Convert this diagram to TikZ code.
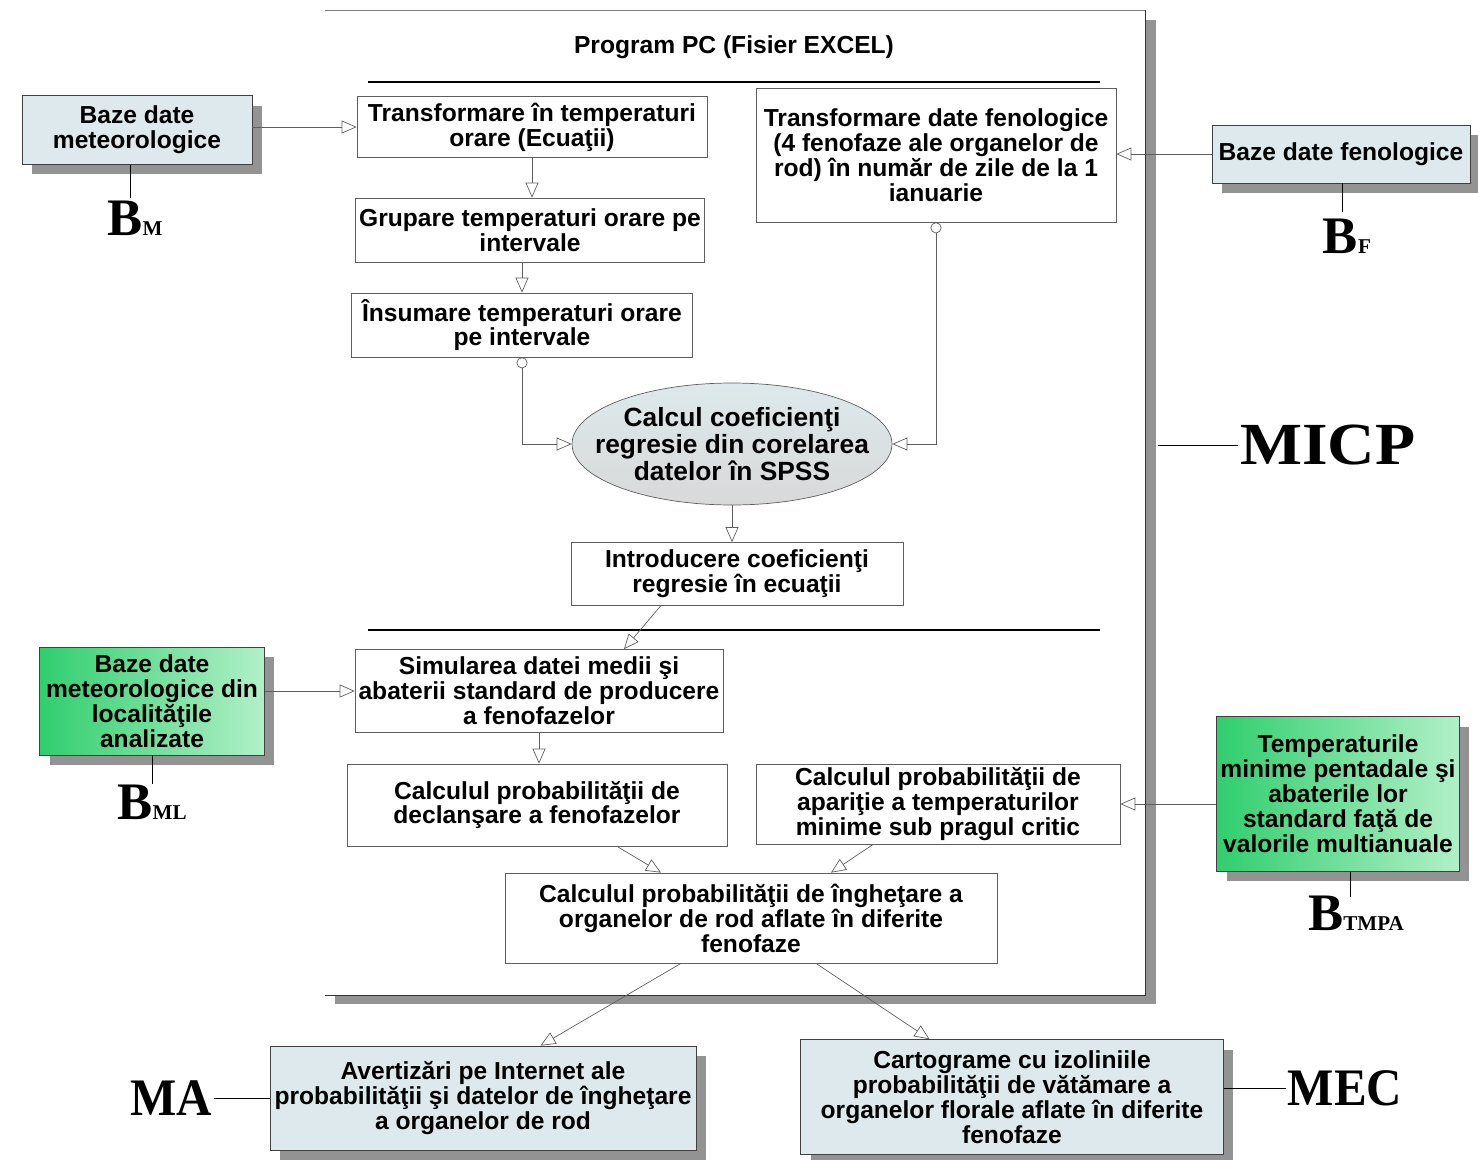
\documentclass[tikz,border=0pt]{standalone}
\usepackage{fontspec}
\setmainfont{Liberation Serif}
\setsansfont{Liberation Sans}
\usepackage{tikz}
\usetikzlibrary{arrows.meta,shapes.geometric,shapes.misc,shadows}

\definecolor{boxblue}{RGB}{221,233,236}
\definecolor{greenA}{RGB}{48,206,110}
\definecolor{greenB}{RGB}{178,240,200}
\definecolor{linegray}{RGB}{95,95,95}

\newcommand{\blab}[1]{{\fontsize{30}{30}\selectfont\bfseries B}{\fontsize{12}{12}\selectfont\bfseries #1}}

\tikzset{
  pas/.style={draw=linegray, fill=white, align=center, inner sep=2pt,
    font=\sffamily\bfseries\fontsize{14}{14.2}\selectfont},
  baza/.style={pas, fill=boxblue, draw=black!75,
    drop shadow={shadow xshift=0.2cm, shadow yshift=-0.2cm, fill=gray!85, opacity=1}},
  bazav/.style={baza, left color=greenA, right color=greenB},
  conn/.style={draw=linegray, -{Triangle[open, length=0.3cm, width=0.26cm]}},
  connc/.style={draw=linegray, {Circle[open, length=0.22cm]}-{Triangle[open, length=0.3cm, width=0.26cm]}},
  eticheta/.style={font=\fontsize{34}{34}\selectfont\bfseries, inner sep=1pt}
}

\begin{document}
\begin{tikzpicture}[x=0.02cm, y=-0.02cm]
    \useasboundingbox (0,0) rectangle (1478,1160);
    % chenarul programului
    \fill[gray!85] (1145,20) rectangle (1156,1004);
    \fill[gray!85] (335,995) rectangle (1156,1004);
    \draw[gray] (325,10) -- (1145,10);
    \draw[black!80] (1145,10) -- (1145,995) -- (325,995);
    \node[font=\sffamily\bfseries\fontsize{14}{14}\selectfont] (titlu) at (734,47) {Program PC (Fisier EXCEL)};
    \draw[thick] (368,82) -- (1100,82);
    \draw[thick] (368,630) -- (1100,630);

    % baze de date
    \node[baza, minimum width=4.6cm, minimum height=1.38cm] (bmeteo) at (137,130) {Baze date\\meteorologice};
    \node[baza, minimum width=5.16cm, minimum height=1.16cm] (bfeno) at (1341,154) {Baze date fenologice};
    \node[bazav, minimum width=4.5cm, minimum height=2.16cm] (bloc) at (152,701) {Baze date\\meteorologice din\\localităţile\\analizate};
    \node[bazav, minimum width=4.86cm, minimum height=3.1cm] (btmpa) at (1338,794) {Temperaturile\\minime pentadale şi\\abaterile lor\\standard faţă de\\valorile multianuale};

    % pasii de calcul
    \node[pas, minimum width=7cm, minimum height=1.22cm] (tmeteo) at (532,127) {Transformare în temperaturi\\orare (Ecuaţii)};
    \node[pas, minimum width=6.9cm, minimum height=1.28cm] (tgrup) at (530,230) {Grupare temperaturi orare pe\\intervale};
    \node[pas, minimum width=6.82cm, minimum height=1.28cm] (tinsum) at (522,325) {Însumare temperaturi orare\\pe intervale};
    \node[pas, minimum width=7.2cm, minimum height=2.68cm] (tfeno) at (936,155) {Transformare date fenologice\\(4 fenofaze ale organelor de\\rod) în număr de zile de la 1\\ianuarie};
    \node[pas, ellipse, inner xsep=-15pt, inner ysep=0pt, top color=boxblue, bottom color=gray!30, minimum width=6.4cm, minimum height=2.44cm, font=\sffamily\bfseries\fontsize{15}{15.2}\selectfont] (ecoef) at (732,444) {Calcul coeficienţi\\regresie din corelarea\\datelor în SPSS};
    \node[pas, minimum width=6.64cm, minimum height=1.26cm] (tintro) at (737,574) {Introducere coeficienţi\\regresie în ecuaţii};
    \node[pas, minimum width=7.36cm, minimum height=1.66cm] (tsimul) at (539,691) {Simularea datei medii şi\\abaterii standard de producere\\a fenofazelor};
    \node[pas, minimum width=7.6cm, minimum height=1.64cm] (tdecl) at (537,805) {Calculul probabilităţii de\\declanşare a fenofazelor};
    \node[pas, minimum width=7.28cm, minimum height=1.52cm] (tapar) at (938,804) {Calculul probabilităţii de\\apariţie a temperaturilor\\minime sub pragul critic};
    \node[pas, minimum width=9.84cm, minimum height=1.8cm] (tinghet) at (751,918) {Calculul probabilităţii de îngheţare a\\organelor de rod aflate în diferite\\fenofaze};

    % rezultate
    \node[baza, minimum width=8.52cm, minimum height=2.08cm] (ma) at (483,1098) {Avertizări pe Internet ale\\probabilităţii şi datelor de îngheţare\\a organelor de rod};
    \node[baza, minimum width=8.46cm, minimum height=2.3cm] (mec) at (1012,1097) {Cartograme cu izoliniile\\probabilităţii de vătămare a\\organelor florale aflate în diferite\\fenofaze};

    % etichete
    \node[inner sep=0pt] (lbm) at (135,218) {\blab{M}};
    \node[inner sep=0pt] (lbf) at (1347,236) {\blab{F}};
    \node[inner sep=0pt] (lbml) at (152,802) {\blab{ML}};
    \node[inner sep=0pt] (lbtmpa) at (1356,913) {\blab{TMPA}};
    \node[eticheta, anchor=west, xscale=1.1] (lmicp) at (1238,445) {MICP};
    \node[eticheta, anchor=east, xscale=0.93, font=\fontsize{30}{30}\selectfont\bfseries] (lma) at (214,1098) {MA};
    \node[eticheta, anchor=west, xscale=0.93, font=\fontsize{30}{30}\selectfont\bfseries] (lmec) at (1286,1088) {MEC};
    \coordinate (cadru) at (1158,445);

    \draw (bmeteo.south -| 130,0) -- (130,198);
    \draw (bfeno.south -| 1342,0) -- (1342,212);
    \draw (bloc.south -| 152,0) -- (152,784);
    \draw (btmpa.south -| 1350,0) -- (1350,897);
    \draw (cadru) -- (lmicp.west);
    \draw (lma.east) -- (lma.east -| ma.west);
    \draw (lmec.west -| mec.east) -- (lmec.west);

    % legaturi
    \draw[conn] (bmeteo.east |- tmeteo) -- (tmeteo.west);
    \draw[conn] (bfeno.west) -- (bfeno.west -| tfeno.east);
    \draw[conn] (bloc.east |- tsimul) -- (tsimul.west);
    \draw[conn] (btmpa.west |- tapar) -- (tapar.east);
    \draw[conn] (tmeteo.south) -- (tmeteo.south |- tgrup.north);
    \draw[conn] (tgrup.south -| tinsum) -- (tinsum.north);
    \draw[connc] (tinsum.south) |- (ecoef.west);
    \draw[connc] (tfeno.south) |- (ecoef.east);
    \draw[conn] (ecoef.south) -- (ecoef.south |- tintro.north);
    \draw[conn] (tintro.south west) ++(90,0) -- ([xshift=1.7cm]tsimul.north);
    \draw[conn] (tsimul.south) -- (tsimul.south |- tdecl.north);
    \draw[conn] ([xshift=1.6cm]tdecl.south) -- ([xshift=-1.8cm]tinghet.north);
    \draw[conn] ([xshift=-1.3cm]tapar.south) -- ([xshift=1.6cm]tinghet.north);
    \draw[conn] ([xshift=-1.4cm]tinghet.south) -- ([xshift=1.15cm]ma.north);
    \draw[conn] ([xshift=1.3cm]tinghet.south) -- ([xshift=-1.65cm]mec.north);
  \end{tikzpicture}
\end{document}
